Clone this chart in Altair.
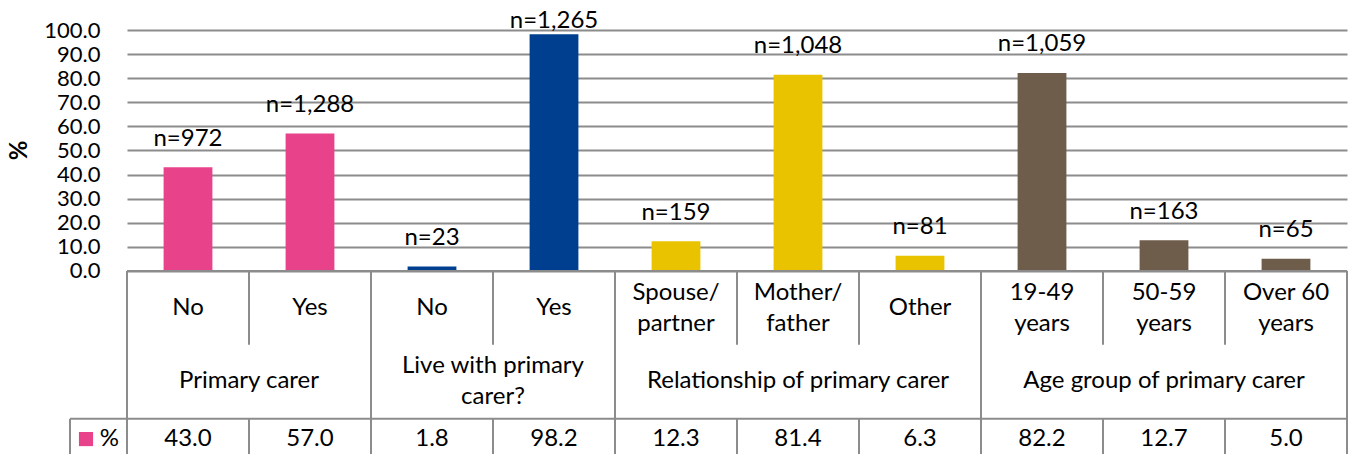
import altair as alt
import pandas as pd

# ---- data ----
groups = ["Primary carer", "Live with primary\ncarer?", "Relationship of primary carer", "Age group of primary carer"]
group_sizes = [2, 2, 3, 3]
categories = ["No", "Yes", "No", "Yes", "Spouse/\npartner", "Mother/\nfather", "Other",
              "19-49\nyears", "50-59\nyears", "Over 60\nyears"]
values = [43.0, 57.0, 1.8, 98.2, 12.3, 81.4, 6.3, 82.2, 12.7, 5.0]
n_labels = ["n=972", "n=1,288", "n=23", "n=1,265", "n=159", "n=1,048", "n=81", "n=1,059", "n=163", "n=65"]
group_colors = ["#E8438A", "#003F8F", "#E9C300", "#6E5D4B"]
y_ticks = [0, 10, 20, 30, 40, 50, 60, 70, 80, 90, 100]
series_name = "%"

# ---- layout constants (table rows in y-units below zero) ----
Y_MIN, Y_MAX = -76, 100
PX_PER_UNIT = 424 / (Y_MAX - Y_MIN)
ROW1_BOTTOM = -30.7
ROW2_BOTTOM = -61.4
CAT_TEXT_Y = -15.4
GROUP_TEXT_Y = -45.7
VAL_TEXT_Y = -69.8
LEGEND_LEFT = -0.467
LINE_H = 31
FONT = "Lato"
FS = 24
LINE = "#8c8c8c"


def first_line_y(center, label):
    n_lines = label.count("\n") + 1
    return center + (n_lines - 1) * (LINE_H / 2) / PX_PER_UNIT


n_cat = len(categories)
group_of = []
for g, s in zip(groups, group_sizes):
    group_of += [g] * s

bars = pd.DataFrame({
    "x0": [i + 0.3 for i in range(n_cat)],
    "x1": [i + 0.7 for i in range(n_cat)],
    "xc": [i + 0.5 for i in range(n_cat)],
    "value": values,
    "group": group_of,
    "cat": categories,
    "n": n_labels,
    "ytext_cat": [first_line_y(CAT_TEXT_Y, c) for c in categories],
    "ytext_val": [VAL_TEXT_Y] * n_cat,
})

cum = [0]
for s in group_sizes:
    cum.append(cum[-1] + s)
group_df = pd.DataFrame({
    "group": groups,
    "xc": [(cum[i] + cum[i + 1]) / 2 for i in range(len(groups))],
    "y": [first_line_y(GROUP_TEXT_Y, g) for g in groups],
})

rules = []
for b in cum:
    rules.append(dict(x=b, x2=b, y=0, y2=Y_MIN))
inner = [i for i in range(1, n_cat) if i not in cum]
for b in inner:
    rules.append(dict(x=b, x2=b, y=0, y2=ROW1_BOTTOM))
for b in range(1, n_cat):
    rules.append(dict(x=b, x2=b, y=ROW2_BOTTOM, y2=Y_MIN))
rules.append(dict(x=LEGEND_LEFT, x2=LEGEND_LEFT, y=ROW2_BOTTOM, y2=Y_MIN))
rules.append(dict(x=0, x2=n_cat, y=0, y2=0))
rules.append(dict(x=LEGEND_LEFT, x2=n_cat, y=ROW2_BOTTOM, y2=ROW2_BOTTOM))
rules_df = pd.DataFrame(rules)

legend_df = pd.DataFrame({"x": [-0.336], "xt": [-0.066], "y": [VAL_TEXT_Y], "label": [series_name], "group": [groups[0]]})

xscale = alt.Scale(domain=[0, n_cat], nice=False, zero=False)
yscale = alt.Scale(domain=[Y_MIN, Y_MAX], nice=False, zero=False)
cscale = alt.Scale(domain=groups, range=group_colors)

y_axis = alt.Axis(values=y_ticks, format=".1f", grid=True, gridColor=LINE, gridWidth=2,
                  domain=False, ticks=False, labelFont=FONT, labelFontSize=22,
                  labelColor="black", labelPadding=27,
                  title="%", titleFont=FONT, titleFontSize=FS, titleFontWeight="bold",
                  titleColor="black", titleAngle=270, titleX=-108, titleY=120,
                  titleAlign="center", titleBaseline="middle")


def Y(field):
    return alt.Y(field, scale=yscale, axis=y_axis)


def X(field):
    return alt.X(field, scale=xscale, axis=None)


bar_layer = alt.Chart(bars).mark_bar().encode(
    x=X("x0:Q"), x2="x1:Q",
    y=Y("value:Q"), y2=alt.datum(0),
    color=alt.Color("group:N", scale=cscale, legend=None),
)

nlab = alt.Chart(bars).transform_calculate(
    ylab="min(datum.value + 11.8, 103.8)"
).mark_text(font=FONT, fontSize=FS, baseline="middle", color="black").encode(
    x=X("xc:Q"), y=Y("ylab:Q"), text="n:N",
)

rule_layer = alt.Chart(rules_df).mark_rule(color=LINE, strokeWidth=2).encode(
    x=X("x:Q"), x2="x2:Q", y=Y("y:Q"), y2="y2:Q",
)

cat_text = alt.Chart(bars).mark_text(font=FONT, fontSize=FS, lineBreak="\n", lineHeight=LINE_H,
                                     baseline="middle", color="black").encode(
    x=X("xc:Q"), y=Y("ytext_cat:Q"), text="cat:N",
)

val_text = alt.Chart(bars).mark_text(font=FONT, fontSize=FS, baseline="middle", color="black").encode(
    x=X("xc:Q"), y=Y("ytext_val:Q"), text=alt.Text("value:Q", format=".1f"),
)

group_text = alt.Chart(group_df).mark_text(font=FONT, fontSize=FS, lineBreak="\n", lineHeight=LINE_H,
                                           baseline="middle", color="black").encode(
    x=X("xc:Q"), y=Y("y:Q"), text="group:N",
)

leg_sq = alt.Chart(legend_df).mark_square(size=200, opacity=1).encode(
    x=X("x:Q"), y=Y("y:Q"),
    color=alt.Color("group:N", scale=cscale, legend=None),
)
leg_txt = alt.Chart(legend_df).mark_text(font=FONT, fontSize=FS, baseline="middle", align="right",
                                         color="black").encode(
    x=X("xt:Q"), y=Y("y:Q"), text="label:N",
)

chart = alt.layer(bar_layer, rule_layer, nlab, cat_text, group_text, val_text, leg_sq, leg_txt).properties(
    width=1220, height=424,
    autosize=alt.AutoSizeParams(type="none"),
    padding={"left": 119, "top": 22, "right": 1, "bottom": 0},
    background="white",
).configure_view(strokeWidth=0)

chart.save("out.html", embed_options={"renderer": "svg", "actions": False})
